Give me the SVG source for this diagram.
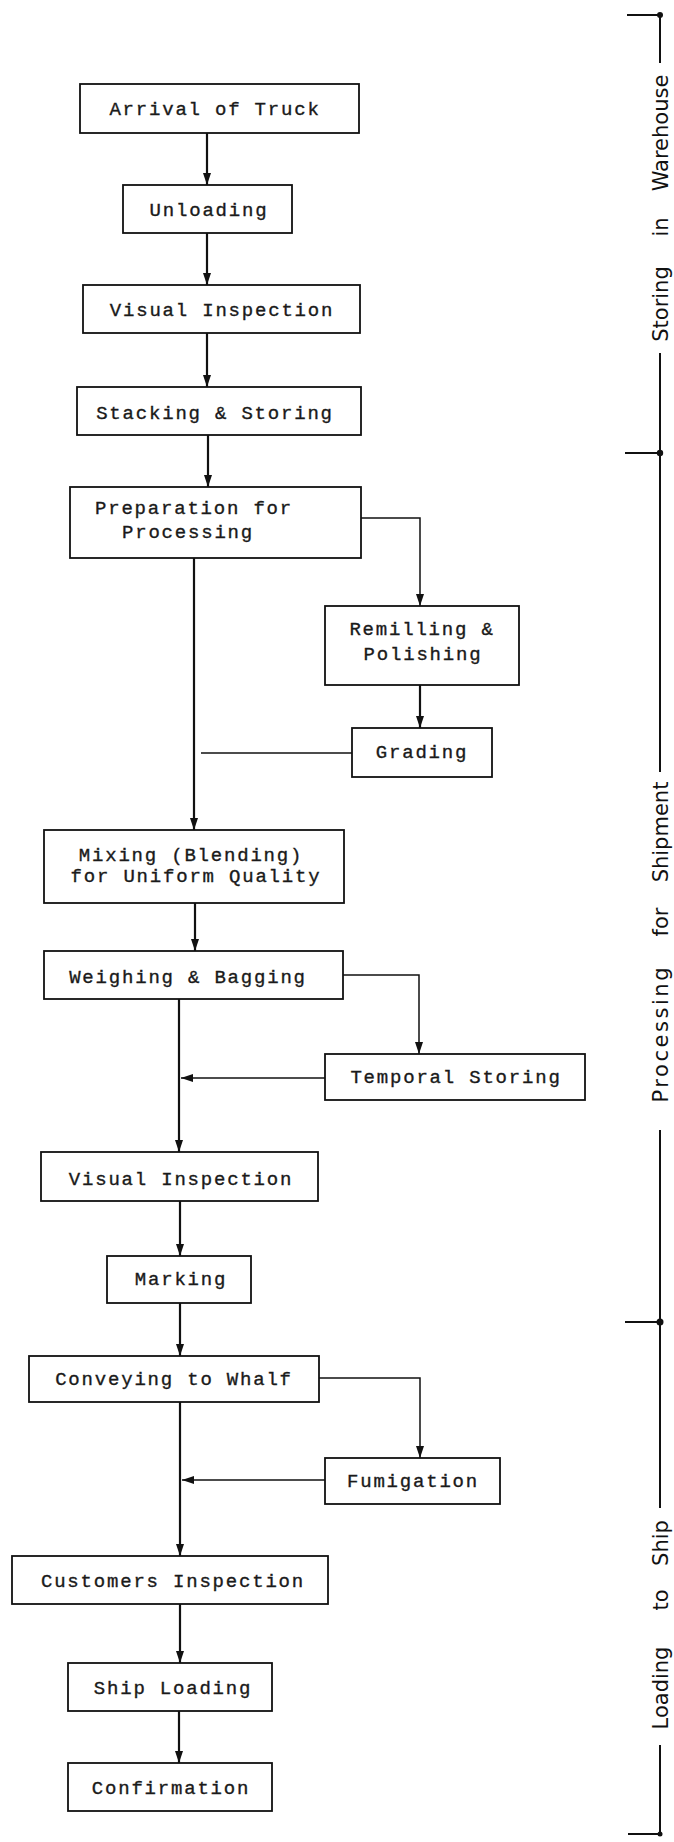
<svg xmlns="http://www.w3.org/2000/svg" width="674" height="1842" viewBox="0 0 674 1842">
<defs>
<style>
.box{fill:#fff;stroke:#111;stroke-width:1.8}
.t{font-family:"Liberation Mono",monospace;font-size:19px;letter-spacing:1.8px;fill:#1a1a1a;stroke:#1a1a1a;stroke-width:0.35;text-anchor:middle}
.ts{font-family:"Liberation Mono",monospace;font-size:19px;letter-spacing:1.8px;fill:#1a1a1a;stroke:#1a1a1a;stroke-width:0.35;text-anchor:start}
.main{fill:none;stroke:#111;stroke-width:2.2}
.br{fill:none;stroke:#111;stroke-width:1.5}
.side{font-family:"DejaVu Sans",sans-serif;font-size:21px;fill:#111;text-anchor:middle}
.sl{stroke:#111;stroke-width:2;fill:none}
</style>
<marker id="ah" viewBox="0 0 12 8" refX="12" refY="4" markerWidth="12" markerHeight="8" markerUnits="userSpaceOnUse" orient="auto">
<path d="M0,0 L12,4 L0,8 Z" fill="#111"/>
</marker>
</defs>
<rect width="674" height="1842" fill="#fff"/>

<g id="connectors">
<line class="main" x1="207" y1="133" x2="207" y2="185" marker-end="url(#ah)"/>
<line class="main" x1="207" y1="233" x2="207" y2="285" marker-end="url(#ah)"/>
<line class="main" x1="207" y1="333" x2="207" y2="387" marker-end="url(#ah)"/>
<line class="main" x1="208" y1="435" x2="208" y2="487" marker-end="url(#ah)"/>
<path class="br" d="M361,518 H420 V606" marker-end="url(#ah)"/>
<line class="main" x1="194" y1="558" x2="194" y2="830" marker-end="url(#ah)"/>
<line class="main" x1="420" y1="685" x2="420" y2="728" marker-end="url(#ah)"/>
<line class="br" x1="352" y1="753" x2="201" y2="753"/>
<line class="main" x1="195" y1="903" x2="195" y2="951" marker-end="url(#ah)"/>
<path class="br" d="M343,975 H419 V1054" marker-end="url(#ah)"/>
<line class="main" x1="179" y1="999" x2="179" y2="1152" marker-end="url(#ah)"/>
<line class="br" x1="325" y1="1078" x2="181" y2="1078" marker-end="url(#ah)"/>
<line class="main" x1="180" y1="1201" x2="180" y2="1256" marker-end="url(#ah)"/>
<line class="main" x1="180" y1="1303" x2="180" y2="1356" marker-end="url(#ah)"/>
<path class="br" d="M319,1378 H420 V1458" marker-end="url(#ah)"/>
<line class="main" x1="180" y1="1402" x2="180" y2="1556" marker-end="url(#ah)"/>
<line class="br" x1="325" y1="1480" x2="182" y2="1480" marker-end="url(#ah)"/>
<line class="main" x1="180" y1="1604" x2="180" y2="1663" marker-end="url(#ah)"/>
<line class="main" x1="179" y1="1711" x2="179" y2="1763" marker-end="url(#ah)"/>
</g>

<g id="arrival"><rect class="box" x="80" y="84" width="279" height="49"/><text class="t" x="215" y="115">Arrival of Truck</text></g>
<g id="unloading"><rect class="box" x="123" y="185" width="169" height="48"/><text class="t" x="209" y="216">Unloading</text></g>
<g id="visual1"><rect class="box" x="83" y="285" width="277" height="48"/><text class="t" x="222" y="316">Visual Inspection</text></g>
<g id="stacking"><rect class="box" x="77" y="387" width="284" height="48"/><text class="t" x="215" y="419">Stacking &amp; Storing</text></g>
<g id="preparation"><rect class="box" x="70" y="487" width="291" height="71"/><text class="ts" x="95" y="514">Preparation for</text><text class="ts" x="122" y="538">Processing</text></g>
<g id="remilling"><rect class="box" x="325" y="606" width="194" height="79"/><text class="t" x="422" y="635">Remilling &amp;</text><text class="t" x="423" y="660">Polishing</text></g>
<g id="grading"><rect class="box" x="352" y="728" width="140" height="49"/><text class="t" x="422" y="758">Grading</text></g>
<g id="mixing"><rect class="box" x="44" y="830" width="300" height="73"/><text class="t" x="191" y="861">Mixing (Blending)</text><text class="t" x="196" y="882">for Uniform Quality</text></g>
<g id="weighing"><rect class="box" x="44" y="951" width="299" height="48"/><text class="t" x="188" y="983">Weighing &amp; Bagging</text></g>
<g id="temporal"><rect class="box" x="325" y="1054" width="260" height="46"/><text class="t" x="456" y="1083">Temporal Storing</text></g>
<g id="visual2"><rect class="box" x="41" y="1152" width="277" height="49"/><text class="t" x="181" y="1185">Visual Inspection</text></g>
<g id="marking"><rect class="box" x="107" y="1256" width="144" height="47"/><text class="t" x="181" y="1285">Marking</text></g>
<g id="conveying"><rect class="box" x="29" y="1356" width="290" height="46"/><text class="t" x="174" y="1385">Conveying to Whalf</text></g>
<g id="fumigation"><rect class="box" x="325" y="1458" width="175" height="46"/><text class="t" x="413" y="1487">Fumigation</text></g>
<g id="customers"><rect class="box" x="12" y="1556" width="316" height="48"/><text class="t" x="173" y="1587">Customers Inspection</text></g>
<g id="shiploading"><rect class="box" x="68" y="1663" width="204" height="48"/><text class="t" x="173" y="1694">Ship Loading</text></g>
<g id="confirmation"><rect class="box" x="68" y="1763" width="204" height="48"/><text class="t" x="171" y="1794">Confirmation</text></g>

<g id="phases">
<line class="sl" x1="627" y1="15" x2="660" y2="15"/><circle cx="660" cy="15" r="3" fill="#111"/>
<line class="sl" x1="660" y1="15" x2="660" y2="63"/>
<line class="sl" x1="660" y1="353" x2="660" y2="772"/>
<line class="sl" x1="625" y1="453" x2="660" y2="453"/><circle cx="660" cy="453" r="3.2" fill="#111"/>
<line class="sl" x1="660" y1="1130" x2="660" y2="1508"/>
<line class="sl" x1="625" y1="1322" x2="660" y2="1322"/><circle cx="660" cy="1322" r="3.5" fill="#111"/>
<line class="sl" x1="660" y1="1745" x2="660" y2="1834"/>
<line class="sl" x1="628" y1="1834" x2="660" y2="1834"/><circle cx="660" cy="1834" r="2.5" fill="#111"/>
<text class="side" transform="translate(668,133) rotate(-90)">Warehouse</text>
<text class="side" transform="translate(668,227) rotate(-90)">in</text>
<text class="side" transform="translate(668,304) rotate(-90)">Storing</text>
<text class="side" transform="translate(668,832) rotate(-90)">Shipment</text>
<text class="side" transform="translate(668,922) rotate(-90)">for</text>
<text class="side" transform="translate(668,1035) rotate(-90)" textLength="135">Processing</text>
<text class="side" transform="translate(668,1543) rotate(-90)">Ship</text>
<text class="side" transform="translate(668,1600) rotate(-90)">to</text>
<text class="side" transform="translate(668,1688) rotate(-90)">Loading</text>
</g>
</svg>
